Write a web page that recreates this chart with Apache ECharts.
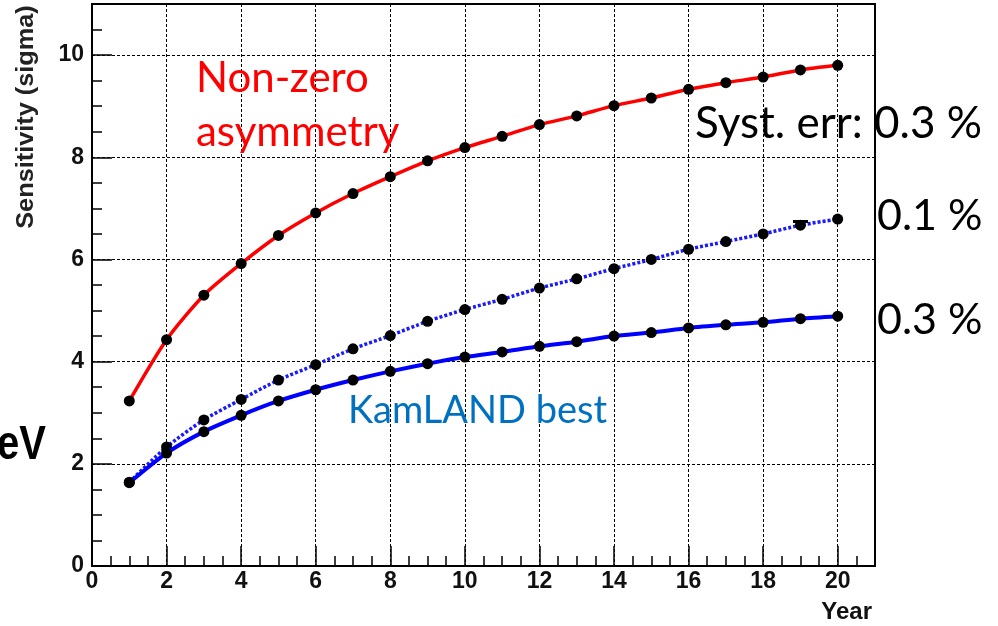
<!DOCTYPE html>
<html>
<head>
<meta charset="utf-8">
<script src="https://cdn.jsdelivr.net/npm/echarts@6/dist/echarts.min.js"></script>
<style>
html,body{margin:0;padding:0;background:#fff;}
#chart{width:998px;height:626px;}
</style>
</head>
<body>
<div id="chart"></div>
<script>
// ---- data ----
const years = [1,2,3,4,5,6,7,8,9,10,11,12,13,14,15,16,17,18,19,20];
const nonZeroAsym = [3.23,4.43,5.30,5.92,6.47,6.91,7.29,7.62,7.93,8.19,8.41,8.64,8.81,9.01,9.16,9.33,9.46,9.57,9.71,9.80];
const syst01 = [1.64,2.33,2.86,3.26,3.64,3.94,4.25,4.51,4.79,5.02,5.22,5.44,5.62,5.82,6.00,6.20,6.35,6.50,6.67,6.79];
const syst03 = [1.63,2.21,2.63,2.95,3.23,3.45,3.64,3.81,3.96,4.09,4.19,4.30,4.39,4.50,4.57,4.66,4.72,4.77,4.84,4.89];
const xTickLabels = ['0','2','4','6','8','10','12','14','16','18','20'];
const yTickLabels = ['0','2','4','6','8','10'];
const yTitle = 'Sensitivity (sigma)';
const xTitle = 'Year';

function pairs(xs, ys){ return xs.map((x,i)=>[x, ys[i]]); }

const chart = echarts.init(document.getElementById('chart'), null, {renderer:'canvas'});
const tickFont = {fontFamily:'Liberation Sans, Arial, sans-serif', fontWeight:'bold', fontSize:23, color:'#111'};

const option = {
  animation:false,
  backgroundColor:'#fff',
  grid:{left:92, right:123, top:4, bottom:60, show:true, borderColor:'#000', borderWidth:2, backgroundColor:'transparent'},
  xAxis:[
    {type:'value', position:'bottom', min:0, max:21, interval:2,
     axisLine:{show:true, onZero:false, lineStyle:{color:'#000', width:2}},
     axisTick:{show:true, inside:true, length:20, lineStyle:{color:'#000', width:1.5}},
     axisLabel:Object.assign({margin:4, formatter:v=> xTickLabels.includes(String(v)) ? String(v) : ''}, tickFont),
     splitLine:{show:true, lineStyle:{color:'#000', width:1, type:[3,2]}}},
    {type:'value', position:'bottom', min:0, max:21, interval:0.5,
     axisLine:{show:false}, axisLabel:{show:false}, splitLine:{show:false},
     axisTick:{show:true, inside:true, length:10, lineStyle:{color:'#000', width:1.5}}}
  ],
  yAxis:[
    {type:'value', position:'left', min:0, max:11, interval:2,
     axisLine:{show:true, onZero:false, lineStyle:{color:'#000', width:2}},
     axisTick:{show:true, inside:true, length:20, lineStyle:{color:'#000', width:1.5}},
     axisLabel:Object.assign({margin:8, formatter:v=> yTickLabels.includes(String(v)) ? String(v) : ''}, tickFont),
     splitLine:{show:true, lineStyle:{color:'#000', width:1, type:[3,2]}}},
    {type:'value', position:'left', min:0, max:11, interval:0.5,
     axisLine:{show:false}, axisLabel:{show:false}, splitLine:{show:false},
     axisTick:{show:true, inside:true, length:10, lineStyle:{color:'#000', width:1.5}}}
  ],
  series:[
    {name:'Non-zero asymmetry (0.3 %)', type:'line', data:pairs(years, nonZeroAsym), smooth:0.25,
     symbol:'circle', symbolSize:11, itemStyle:{color:'#000'},
     lineStyle:{color:'#ff0000', width:3.5}, z:3},
    {name:'0.1 %', type:'line', data:pairs(years, syst01), smooth:0.25,
     symbol:'circle', symbolSize:11, itemStyle:{color:'#000'},
     lineStyle:{color:'#1a1aff', width:3.5, type:[3,2]}, z:3},
    {name:'0.3 %', type:'line', data:pairs(years, syst03), smooth:0.25,
     symbol:'circle', symbolSize:11, itemStyle:{color:'#000'},
     lineStyle:{color:'#0000ff', width:4}, z:4}
  ],
  graphic:[
    {type:'text', x:27, y:117, rotation:Math.PI/2, scaleX:1.1,
     style:{text:yTitle, x:0, y:0, textAlign:'center', textVerticalAlign:'middle',
            fontFamily:'Liberation Sans, Arial, sans-serif', fontWeight:'bold', fontSize:23, fill:'#222'}},
    {type:'text', x:872, y:612,
     style:{text:xTitle, x:0, y:0, textAlign:'right', textVerticalAlign:'middle',
            fontFamily:'Liberation Sans, Arial, sans-serif', fontWeight:'bold', fontSize:24, fill:'#111'}},
    {type:'text', x:46, y:446, scaleY:1.2,
     style:{text:'eV', x:0, y:0, textAlign:'right', textVerticalAlign:'middle',
            fontFamily:'Liberation Sans, Arial, sans-serif', fontWeight:'bold', fontSize:40, fill:'#000'}},
    {type:'text', x:196, y:78, z:10,
     style:{text:'Non-zero', x:0, y:0, textAlign:'left', textVerticalAlign:'middle',
            fontFamily:'Lato, sans-serif', fontSize:42, fill:'#ff0000'}},
    {type:'text', x:196, y:132, z:10,
     style:{text:'asymmetry', x:0, y:0, textAlign:'left', textVerticalAlign:'middle',
            fontFamily:'Lato, sans-serif', fontSize:42, fill:'#ff0000'}},
    {type:'text', x:695, y:124, z:10,
     style:{text:'Syst. err: 0.3 %', x:0, y:0, textAlign:'left', textVerticalAlign:'middle',
            fontFamily:'Lato, sans-serif', fontSize:44, fill:'#000'}},
    {type:'text', x:877, y:216, z:10,
     style:{text:'0.1 %', x:0, y:0, textAlign:'left', textVerticalAlign:'middle',
            fontFamily:'Lato, sans-serif', fontSize:43, fill:'#000'}},
    {type:'text', x:877, y:320, z:10,
     style:{text:'0.3 %', x:0, y:0, textAlign:'left', textVerticalAlign:'middle',
            fontFamily:'Lato, sans-serif', fontSize:43, fill:'#000'}},
    {type:'text', x:348, y:411, z:10,
     style:{text:'KamLAND best', x:0, y:0, textAlign:'left', textVerticalAlign:'middle',
            fontFamily:'Lato, sans-serif', fontSize:38, fill:'#0070c0'}},
    {type:'rect', shape:{x:793, y:220, width:15, height:3}, style:{fill:'#000'}, z:10}
  ]
};
chart.setOption(option);
</script>
</body>
</html>
